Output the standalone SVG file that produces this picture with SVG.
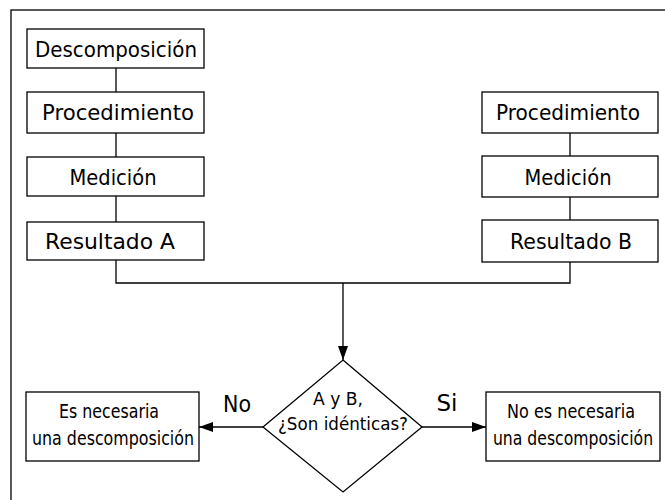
<svg xmlns="http://www.w3.org/2000/svg" width="665" height="500" viewBox="0 0 665 500">
<style>
.box{fill:#fff;stroke:#000;stroke-width:1.3}
.ln{fill:none;stroke:#000;stroke-width:1.3}
text{font-family:"DejaVu Sans",sans-serif;fill:#000;text-anchor:middle}
.big{font-size:22px}
.sm{font-size:19px}
.dm{font-size:18px}
.lab{font-size:23px}
</style>
<defs>
<marker id="ah" markerWidth="14" markerHeight="10" refX="14" refY="5" orient="auto" markerUnits="userSpaceOnUse">
<path d="M0,0 L14,5 L0,10 Z" fill="#000"/>
</marker>
</defs>
<rect x="11" y="10" width="700" height="600" fill="none" stroke="#000" stroke-width="1.3"/>
<g id="connectors">
<path class="ln" d="M116,68 V92 M116,133 V157 M116,196 V222 M116,260 V283 H570 V262 M570,133 V156 M570,197 V220"/>
<path class="ln" d="M343,283 V360" marker-end="url(#ah)"/>
<path class="ln" d="M263,427 H199" marker-end="url(#ah)"/>
<path class="ln" d="M422,427 H486" marker-end="url(#ah)"/>
<text class="lab" x="237" y="412" textLength="28" lengthAdjust="spacingAndGlyphs">No</text>
<text class="lab" x="447" y="411" textLength="21" lengthAdjust="spacingAndGlyphs">Si</text>
</g>
<g id="descomposicion"><rect class="box" x="27" y="29" width="177" height="39"/><text class="big" x="116" y="57" textLength="162" lengthAdjust="spacingAndGlyphs">Descomposición</text></g>
<g id="procedimientoA"><rect class="box" x="27" y="92" width="177" height="41"/><text class="big" x="118" y="120" textLength="152" lengthAdjust="spacingAndGlyphs">Procedimiento</text></g>
<g id="medicionA"><rect class="box" x="27" y="157" width="177" height="39"/><text class="big" x="113" y="185" textLength="87" lengthAdjust="spacingAndGlyphs">Medición</text></g>
<g id="resultadoA"><rect class="box" x="27" y="222" width="177" height="38"/><text class="big" x="110" y="249" textLength="130" lengthAdjust="spacingAndGlyphs">Resultado A</text></g>
<g id="procedimientoB"><rect class="box" x="482" y="92" width="176" height="41"/><text class="big" x="568" y="120" textLength="144" lengthAdjust="spacingAndGlyphs">Procedimiento</text></g>
<g id="medicionB"><rect class="box" x="482" y="156" width="176" height="41"/><text class="big" x="568" y="185" textLength="87" lengthAdjust="spacingAndGlyphs">Medición</text></g>
<g id="resultadoB"><rect class="box" x="482" y="220" width="176" height="42"/><text class="big" x="571" y="249" textLength="122" lengthAdjust="spacingAndGlyphs">Resultado B</text></g>
<g id="decision"><polygon class="box" points="343,360 422,427 343,492 263,427"/><text class="dm" x="338" y="405" textLength="50" lengthAdjust="spacingAndGlyphs">A y B,</text><text class="dm" x="343" y="430" textLength="130" lengthAdjust="spacingAndGlyphs">¿Son idénticas?</text></g>
<g id="necesaria"><rect class="box" x="26" y="392" width="173" height="69"/><text class="sm" x="109" y="418" textLength="100" lengthAdjust="spacingAndGlyphs">Es necesaria</text><text class="sm" x="113" y="445" textLength="162" lengthAdjust="spacingAndGlyphs">una descomposición</text></g>
<g id="nonecesaria"><rect class="box" x="486" y="392" width="174" height="69"/><text class="sm" x="571" y="418" textLength="128" lengthAdjust="spacingAndGlyphs">No es necesaria</text><text class="sm" transform="translate(573,445) scale(0.825,1)" x="0" y="0">una descomposición</text></g>
</svg>
